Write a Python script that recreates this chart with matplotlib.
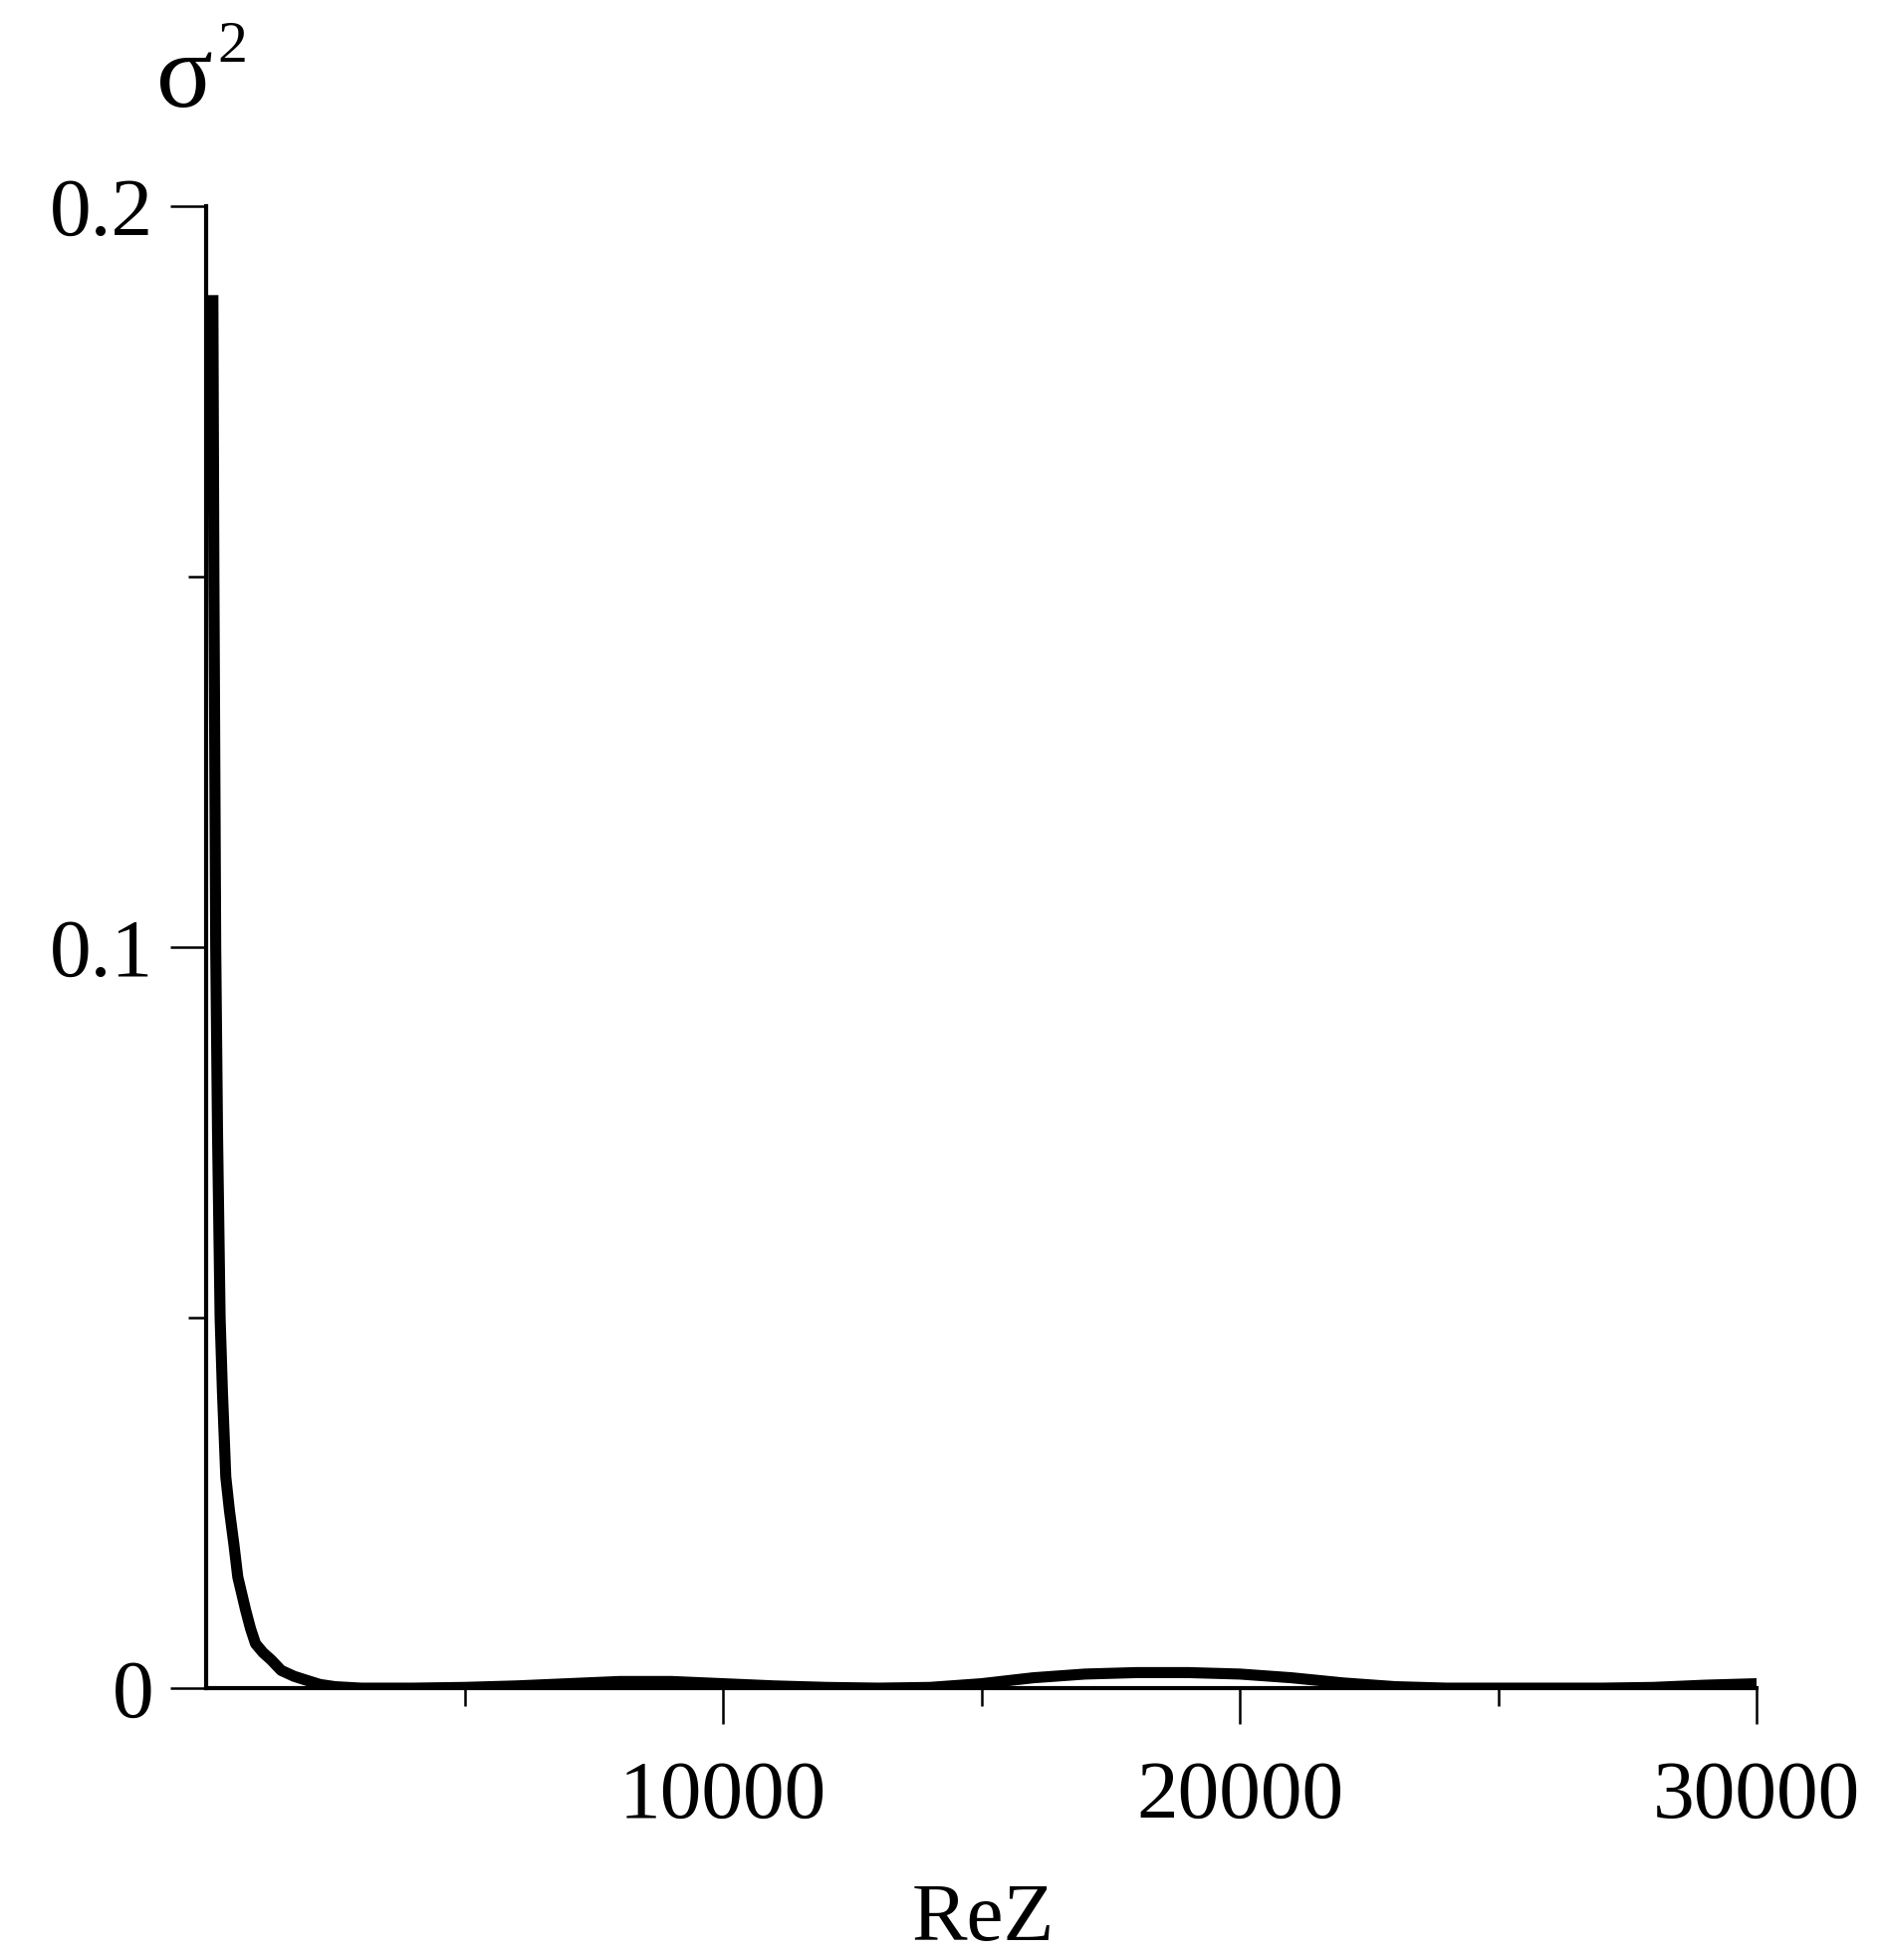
import numpy as np
import matplotlib
matplotlib.use('Agg')
import matplotlib.pyplot as plt
from matplotlib.ticker import FixedLocator

# values
rez = [130, 150, 185, 220, 270, 315, 380, 450, 535, 612, 765, 860, 955, 1100, 1260, 1450, 1700, 1970, 2200, 2490, 3000,
       4000, 5000, 6000, 7000, 8000, 9000, 10000, 11000, 12000, 13000, 14000,
       15000, 16000, 17000, 18000, 19000, 20000, 21000, 22000, 23000, 24000,
       25000, 26000, 27000, 28000, 29000, 30000]
sigma2 = [0.188, 0.150, 0.100, 0.075, 0.050, 0.040, 0.0285, 0.024, 0.0195, 0.015, 0.0105, 0.008, 0.006, 0.0048, 0.0038, 0.0024, 0.0016, 0.001, 0.0005, 0.0002, 0.0,
          0.0, 0.0001, 0.0003, 0.0006, 0.0009, 0.0009, 0.0006, 0.0003, 0.0001, 0.0, 0.0001,
          0.0006, 0.0014, 0.0019, 0.0021, 0.0021, 0.0019, 0.0014, 0.0007, 0.0002, 0.0,
          0.0, 0.0, 0.0, 0.0001, 0.0004, 0.0006]

x_major = [10000, 20000, 30000]
x_minor = [5000, 15000, 25000]
x_labels = ['10000', '20000', '30000']
y_major = [0, 0.1, 0.2]
y_minor = [0.05, 0.15]
y_labels = ['0', '0.1', '0.2']

plt.rcParams['font.family'] = ['Liberation Serif', 'DejaVu Serif']

fig = plt.figure(figsize=(18.89, 19.68), dpi=100)
ax = fig.add_axes([0.1096, 0.1387, 0.934 - 0.1096, 0.8948 - 0.1387])

ax.plot(rez, sigma2, color='black', linewidth=8, solid_capstyle='butt', solid_joinstyle='round')

ax.set_xlim(0, 30000)
ax.set_ylim(0, 0.2)
ax.spines['top'].set_visible(False)
ax.spines['right'].set_visible(False)
for s in ['left', 'bottom']:
    ax.spines[s].set_linewidth(3)
ax.patch.set_visible(False)

ax.xaxis.set_major_locator(FixedLocator(x_major))
ax.xaxis.set_minor_locator(FixedLocator(x_minor))
ax.set_xticklabels(x_labels)
ax.yaxis.set_major_locator(FixedLocator(y_major))
ax.yaxis.set_minor_locator(FixedLocator(y_minor))
ax.set_yticklabels(y_labels)

ax.tick_params(which='major', length=26, width=1.8, labelsize=60, direction='out')
ax.tick_params(which='minor', length=13, width=1.8, direction='out')
ax.tick_params(axis='x', which='major', pad=26)
ax.tick_params(axis='y', which='major', pad=12)

fig.text(0.5225, 0.0102, 'ReZ', fontsize=60, ha='center', va='baseline')
# sigma squared, upright like the original
fig.text(0.083, 0.9456, '\u03c3', fontsize=76, ha='left', va='baseline')
fig.text(0.1154, 0.9685, '2', fontsize=43, ha='left', va='baseline')

fig.savefig('out.png', dpi=100)
